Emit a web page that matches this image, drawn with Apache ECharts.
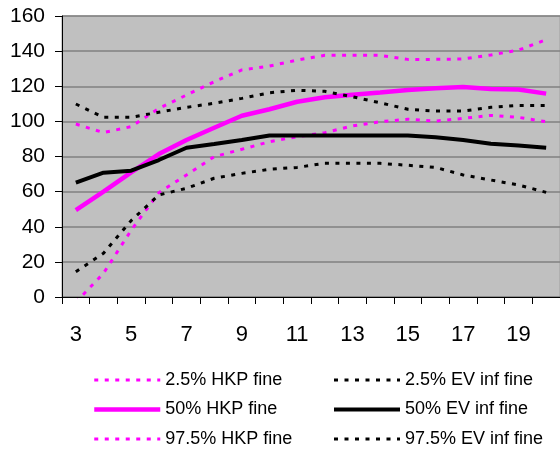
<!DOCTYPE html>
<html>
<head>
<meta charset="utf-8">
<script src="https://cdn.jsdelivr.net/npm/echarts@6/dist/echarts.min.js"></script>
<style>
html,body{margin:0;padding:0;background:#fff;}
#c{width:560px;height:454px;}
</style>
</head>
<body>
<div id="c"></div>
<script>
var categories = ['3','4','5','6','7','8','9','10','11','12','13','14','15','16','17','18','19','20'];
var yTicks = [0, 20, 40, 60, 80, 100, 120, 140, 160];
var hkp025 = [-3, 13.5, 38, 59.4, 69.5, 79.9, 84.1, 88.4, 91.3, 93.6, 97.4, 99.8, 101.2, 100.2, 101.7, 103.4, 102.3, 99.8];
var hkp50  = [49.5, 60, 71, 81.4, 89.4, 96.4, 103.2, 106.9, 111.2, 113.7, 115.2, 116.5, 117.9, 118.8, 119.6, 118.4, 118.2, 115.8];
var hkp975 = [98.5, 93.6, 97, 107.4, 115, 122.6, 129.3, 131.5, 134.9, 137.6, 137.6, 137.6, 135.3, 135.3, 135.5, 137.8, 140.6, 146.5];
var ev025  = [14.4, 24.9, 43.5, 58.1, 61.9, 67.6, 70.4, 72.7, 73.8, 76.1, 76.1, 76.1, 75, 73.8, 69.5, 66.6, 63.8, 59.6];
var ev50   = [65.1, 70.8, 71.9, 78, 85, 87.1, 89.4, 92, 92, 92, 92, 92, 92, 90.9, 89.4, 87.3, 86.2, 85];
var ev975  = [109.9, 102.3, 102.3, 105.2, 108, 110.3, 113.1, 116.3, 117.7, 117.1, 114, 110.6, 106.9, 105.9, 105.9, 108, 109.1, 109.1];
var names = ['2.5% HKP fine', '50% HKP fine', '97.5% HKP fine', '2.5% EV inf fine', '50% EV inf fine', '97.5% EV inf fine'];

var MAG = '#FF00FF', BLK = '#000000';
var FONT = '"Liberation Sans", Arial, sans-serif';

function mk(name, data, color, width, dotted) {
  return {
    name: name, type: 'line', data: data, symbol: 'none', clip: true,
    lineStyle: { color: color, width: width, type: dotted ? [4, 6.5] : 'solid' },
    itemStyle: { color: color },
    emphasis: { disabled: true },
    animation: false
  };
}

function legendCfg(data, left) {
  return {
    data: data, left: left, top: 370, width: 230, height: 90, padding: 0,
    orient: 'vertical', itemWidth: 66, itemHeight: 14, itemGap: 9.5,
    itemStyle: { opacity: 0 },
    lineStyle: { width: 'inherit', type: 'inherit', color: 'inherit' },
    textStyle: { fontFamily: FONT, fontSize: 18, color: '#000', lineHeight: 20 },
    selectedMode: false
  };
}

var chart = echarts.init(document.getElementById('c'), null, { renderer: 'canvas' });
chart.setOption({
  animation: false,
  backgroundColor: '#ffffff',
  grid: { left: 62, top: 16, width: 502, height: 281, show: true, backgroundColor: '#C0C0C0', borderColor: '#A0A0A0', borderWidth: 1 },
  legend: [
    legendCfg(names.slice(0, 3), 92),
    legendCfg(names.slice(3), 332)
  ],
  xAxis: {
    type: 'category', data: categories, boundaryGap: true,
    axisLine: { show: true, lineStyle: { color: '#000', width: 1 } },
    axisTick: { show: true, interval: 0, length: 7, lineStyle: { color: '#000' } },
    axisLabel: { interval: 1, fontFamily: FONT, fontSize: 22, color: '#000', margin: 27 },
    splitLine: { show: false }
  },
  yAxis: {
    type: 'value', min: yTicks[0], max: yTicks[yTicks.length - 1], interval: 20,
    axisLine: { show: true, lineStyle: { color: '#000', width: 1 } },
    axisTick: { show: true, length: 7, lineStyle: { color: '#000' } },
    axisLabel: { fontFamily: FONT, fontSize: 21, color: '#000', margin: 17 },
    splitLine: { show: true, lineStyle: { color: '#808080', width: 1.5 } }
  },
  series: [
    mk(names[0], hkp025, MAG, 3, true),
    mk(names[1], hkp50, MAG, 4.5, false),
    mk(names[2], hkp975, MAG, 3, true),
    mk(names[3], ev025, BLK, 3, true),
    mk(names[4], ev50, BLK, 4, false),
    mk(names[5], ev975, BLK, 3, true)
  ]
});
</script>
</body>
</html>
